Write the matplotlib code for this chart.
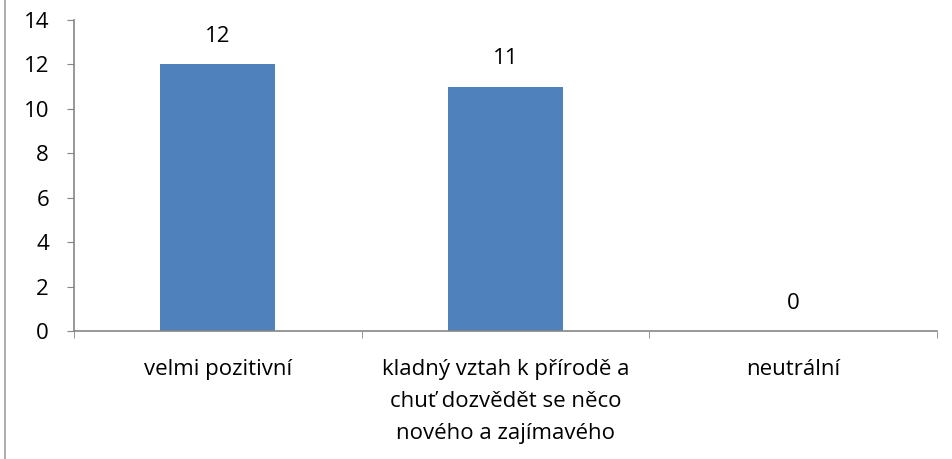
import numpy as np
import matplotlib

matplotlib.use("Agg")
import matplotlib.pyplot as plt
from matplotlib.lines import Line2D

categories = ["velmi pozitivní",
              "kladný vztah k přírodě a\nchuť dozvědět se něco\nnového a zajímavého",
              "neutrální"]
values = [12, 11, 0]

plt.rcParams["font.family"] = ["Open Sans", "DejaVu Sans"]
FS = 16
AXIS = "#868686"

fig = plt.figure(figsize=(9.52, 4.59), dpi=100)
ax = fig.add_axes([74 / 952, 1 - 331 / 459, (937 - 74) / 952, (331 - 20) / 459])

x = np.arange(len(categories))
ax.bar(x, values, width=0.4, color="#4F81BD")
for xi, v in zip(x, values):
    ax.annotate(str(v), (xi, v), xytext=(0, 20), textcoords="offset points",
                ha="center", va="center", fontsize=FS)

ax.set_xlim(-0.5, len(categories) - 0.5)
ax.set_ylim(0, 14)
ax.set_yticks(range(0, 15, 2))
ax.tick_params(axis="y", labelsize=FS, length=5, color=AXIS, pad=13)
ax.set_xticks(x)
ax.set_xticklabels(categories, fontsize=FS, linespacing=1.68)
ax.tick_params(axis="x", which="major", length=0, pad=20)
ax.set_xticks(np.arange(-0.5, len(categories)), minor=True)
ax.tick_params(axis="x", which="minor", length=5, color=AXIS)

for s in ("top", "right"):
    ax.spines[s].set_visible(False)
for s in ("left", "bottom"):
    ax.spines[s].set_color(AXIS)
    ax.spines[s].set_linewidth(1.2)

# chart frame edge on the left
fig.add_artist(Line2D([5 / 952, 5 / 952], [0, 1], transform=fig.transFigure,
                      color="#A0A0A0", lw=1.2))

fig.savefig("out.png", dpi=100)
